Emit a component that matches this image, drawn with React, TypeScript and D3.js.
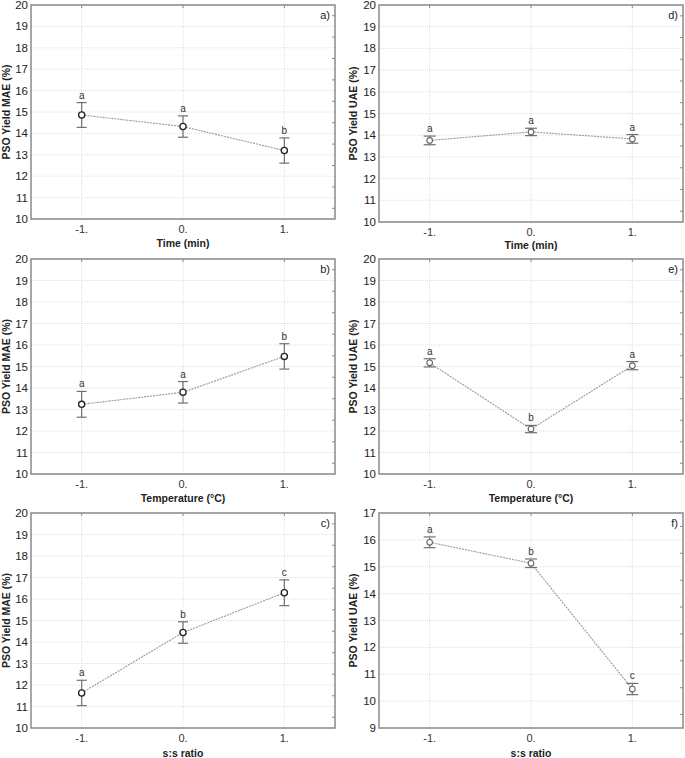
import React from "react";
import * as d3 from "d3";

const categories = ["-1.", "0.", "1."];
const levels = [-1, 0, 1];

const meanA = [14.86, 14.32, 13.2];
const errA = [0.58, 0.5, 0.59];
const letA = ["a", "a", "b"];

const meanB = [13.24, 13.8, 15.47];
const errB = [0.6, 0.5, 0.59];
const letB = ["a", "a", "b"];

const meanC = [11.63, 14.44, 16.29];
const errC = [0.59, 0.5, 0.6];
const letC = ["a", "b", "c"];

const meanD = [13.76, 14.15, 13.83];
const errD = [0.2, 0.17, 0.2];
const letD = ["a", "a", "a"];

const meanE = [15.17, 12.09, 15.04];
const errE = [0.19, 0.17, 0.19];
const letE = ["a", "b", "a"];

const meanF = [15.91, 15.13, 10.45];
const errF = [0.2, 0.16, 0.21];
const letF = ["a", "b", "c"];

const ticks10to20 = [10, 11, 12, 13, 14, 15, 16, 17, 18, 19, 20];
const ticks9to17 = [9, 10, 11, 12, 13, 14, 15, 16, 17];

const FONT = "'Liberation Sans', Arial, sans-serif";

type PanelProps = {
  left: number; right: number; top: number; bottom: number;
  yDomain: [number, number]; yTicks: number[];
  means: number[]; errs: number[]; letters: string[];
  yTitle: string; xTitle: string; tag: string;
  titleX: number; xTitleY: number; big: boolean;
};

function Panel(p: PanelProps) {
  const x = d3.scaleLinear().domain([-1.5, 1.5]).range([p.left, p.right]);
  const y = d3.scaleLinear().domain(p.yDomain).range([p.bottom, p.top]);
  const line = d3.line<number>().x((_, i) => x(levels[i])).y((d) => y(d));
  const halfTicks = p.yTicks.slice(0, -1).map((t) => t + 0.5);
  const cap = p.big ? 5 : 6;
  const r = p.big ? 3.1 : 2.8;
  const frame = "#8a8a8a";
  return (
    <g>
      {p.yTicks.map((t) => (
        <line key={"gy" + t} x1={p.left} x2={p.right} y1={y(t)} y2={y(t)}
          stroke="#d6d6d6" strokeWidth={0.8} strokeDasharray="1,1" />
      ))}
      {levels.map((l) => (
        <line key={"gx" + l} x1={x(l)} x2={x(l)} y1={p.top} y2={p.bottom}
          stroke="#d6d6d6" strokeWidth={0.8} strokeDasharray="1,1" />
      ))}
      <rect x={p.left} y={p.top} width={p.right - p.left} height={p.bottom - p.top}
        fill="none" stroke={frame} strokeWidth={1.5} />
      {levels.map((l) => (
        <g key={"tx" + l}>
          <line x1={x(l)} x2={x(l)} y1={p.top} y2={p.top + 3} stroke={frame} strokeWidth={1} />
        </g>
      ))}
      {halfTicks.map((t) => (
        <line key={"hr" + t} x1={p.right} x2={p.right - 3} y1={y(t)} y2={y(t)} stroke={frame} strokeWidth={1} />
      ))}
      {p.yTicks.map((t) => (
        <text key={"yl" + t} x={p.left - 3} y={y(t)} dy="0.35em" textAnchor="end"
          fontSize={11.5} fontFamily={FONT} fill="#222">{t}</text>
      ))}
      {levels.map((l, i) => (
        <text key={"xl" + l} x={x(l)} y={p.bottom + 14} textAnchor="middle"
          fontSize={11} fontFamily={FONT} fill="#333">{categories[i]}</text>
      ))}
      <text x={(p.left + p.right) / 2} y={p.xTitleY} textAnchor="middle" fontSize={10.5}
        fontWeight="bold" fontFamily={FONT} fill="#222">{p.xTitle}</text>
      <text transform={`translate(${p.titleX},${(p.top + p.bottom) / 2}) rotate(-90)`}
        textAnchor="middle" dy="0.35em" fontSize={10.5} fontWeight="bold" fontFamily={FONT} fill="#222">{p.yTitle}</text>
      <text x={p.right - 5} y={p.top + 14} textAnchor="end" fontSize={11} fontFamily={FONT} fill="#222">{p.tag}</text>
      <path d={line(p.means) || ""} fill="none" stroke="#999" strokeWidth={1.1} strokeDasharray="2,1" />
      {p.means.map((m, i) => {
        const cx = x(levels[i]);
        const hi = y(m + p.errs[i]);
        const lo = y(m - p.errs[i]);
        return (
          <g key={"pt" + i}>
            <line x1={cx} x2={cx} y1={hi} y2={lo} stroke="#707070" strokeWidth={1.2} />
            <line x1={cx - cap} x2={cx + cap} y1={hi} y2={hi} stroke="#707070" strokeWidth={1.2} />
            <line x1={cx - cap} x2={cx + cap} y1={lo} y2={lo} stroke="#707070" strokeWidth={1.2} />
            <circle cx={cx} cy={y(m)} r={r} fill="white"
              stroke={p.big ? "#222" : "#666"} strokeWidth={p.big ? 1.3 : 1.1} />
            <text x={cx} y={hi - 4} textAnchor="middle" fontSize={10} fontFamily={FONT} fill="#333">{p.letters[i]}</text>
          </g>
        );
      })}
    </g>
  );
}

export default function App() {
  const L = { left: 31, right: 335, titleX: 6, big: true };
  const R = { left: 379, right: 683, titleX: 353, big: false };
  return (
    <svg width={685} height={758} style={{ position: "absolute", left: 0, top: 0, background: "white" }}>
      <Panel {...L} top={5} bottom={219} yDomain={[10, 20]} yTicks={ticks10to20}
        means={meanA} errs={errA} letters={letA} yTitle="PSO Yield MAE (%)" xTitle="Time (min)" tag="a)" xTitleY={247} />
      <Panel {...R} top={5} bottom={222} yDomain={[10, 20]} yTicks={ticks10to20}
        means={meanD} errs={errD} letters={letD} yTitle="PSO Yield UAE (%)" xTitle="Time (min)" tag="d)" xTitleY={249} />
      <Panel {...L} top={259} bottom={474} yDomain={[10, 20]} yTicks={ticks10to20}
        means={meanB} errs={errB} letters={letB} yTitle="PSO Yield MAE (%)" xTitle="Temperature (°C)" tag="b)" xTitleY={502} />
      <Panel {...R} top={259} bottom={474} yDomain={[10, 20]} yTicks={ticks10to20}
        means={meanE} errs={errE} letters={letE} yTitle="PSO Yield UAE (%)" xTitle="Temperature (°C)" tag="e)" xTitleY={502} />
      <Panel {...L} top={513} bottom={728} yDomain={[10, 20]} yTicks={ticks10to20}
        means={meanC} errs={errC} letters={letC} yTitle="PSO Yield MAE (%)" xTitle="s:s ratio" tag="c)" xTitleY={757} />
      <Panel {...R} top={513} bottom={728} yDomain={[9, 17]} yTicks={ticks9to17}
        means={meanF} errs={errF} letters={letF} yTitle="PSO Yield UAE (%)" xTitle="s:s ratio" tag="f)" xTitleY={757} />
    </svg>
  );
}
